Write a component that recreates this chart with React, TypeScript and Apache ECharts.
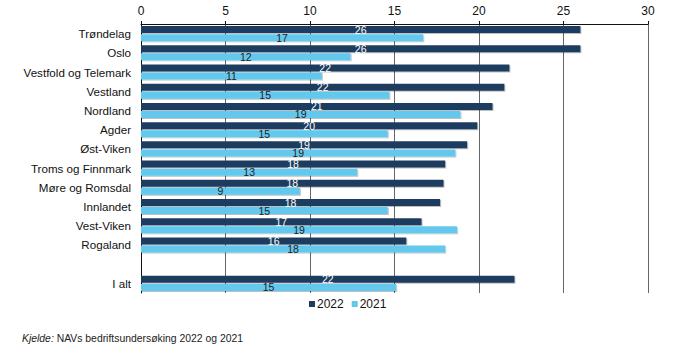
import React, { useEffect, useRef } from "react";
import * as echarts from "echarts";

const categories = [
  "Trøndelag",
  "Oslo",
  "Vestfold og Telemark",
  "Vestland",
  "Nordland",
  "Agder",
  "Øst-Viken",
  "Troms og Finnmark",
  "Møre og Romsdal",
  "Innlandet",
  "Vest-Viken",
  "Rogaland",
  "",
  "I alt",
];
const values2022 = [26.0, 26.0, 21.8, 21.5, 20.8, 19.9, 19.3, 18.0, 17.9, 17.7, 16.6, 15.7, null, 22.1];
const values2021 = [16.7, 12.4, 10.7, 14.7, 18.9, 14.6, 18.6, 12.8, 9.4, 14.6, 18.7, 18.0, null, 15.1];
const xTicks = { min: 0, max: 30, interval: 5 };
const legendNames = ["2022", "2021"];
const sourceLabel = "Kjelde:";
const sourceText = " NAVs bedriftsundersøking 2022 og 2021";

const DARK = "#1f3e5e";
const LIGHT = "#62c8ee";
const FONT = "Liberation Sans, Arial, sans-serif";

export default function App() {
  const ref = useRef<HTMLDivElement>(null);
  useEffect(() => {
    document.body.style.margin = "0";
    if (!ref.current) return;
    const chart = echarts.init(ref.current, null, { renderer: "svg" });
    const barShadow = {
      shadowColor: "rgba(0,0,0,0.25)",
      shadowOffsetX: 1,
      shadowOffsetY: 1,
      shadowBlur: 0,
    };
    const fmt = (p: any) => (p.value == null ? "" : String(Math.round(p.value)));
    chart.setOption({
      animation: false,
      textStyle: { fontFamily: FONT },
      grid: { left: 141, right: 47, top: 24, bottom: 63, containLabel: false },
      legend: {
        data: legendNames,
        left: 304,
        top: 293,
        itemWidth: 6,
        itemHeight: 6,
        itemGap: 8,
        icon: "rect",
        textStyle: { fontSize: 12, color: "#111", fontFamily: FONT, padding: [0, 0, 0, -3] },
      },
      xAxis: {
        type: "value",
        position: "top",
        min: xTicks.min,
        max: xTicks.max,
        interval: xTicks.interval,
        axisLine: { show: true, lineStyle: { color: "#111", width: 1 } },
        axisTick: { show: true, length: 3, lineStyle: { color: "#111" } },
        axisLabel: { fontSize: 12, color: "#111", margin: 7 },
        splitLine: { show: true, lineStyle: { color: "#666", width: 1 } },
      },
      yAxis: {
        type: "category",
        data: categories,
        inverse: true,
        axisLine: { show: true, lineStyle: { color: "#111", width: 1 } },
        axisTick: { show: false },
        axisLabel: { fontSize: 11.6, color: "#111", margin: 10 },
        splitLine: { show: false },
      },
      series: [
        {
          name: legendNames[0],
          type: "bar",
          data: values2022,
          barWidth: 7,
          barGap: "15%",
          barCategoryGap: "20%",
          itemStyle: { color: DARK, ...barShadow },
          label: {
            show: true,
            position: "inside",
            color: "#fff",
            fontSize: 10.5,
            lineHeight: 7,
            formatter: fmt,
          },
          z: 3,
        },
        {
          name: legendNames[1],
          type: "bar",
          data: values2021,
          barWidth: 7,
          itemStyle: { color: LIGHT, ...barShadow },
          label: {
            show: true,
            position: "inside",
            color: "#222",
            fontSize: 10.5,
            lineHeight: 7,
            formatter: fmt,
          },
          z: 3,
        },
      ],
      graphic: [
        {
          type: "text",
          left: 22,
          top: 333,
          style: {
            text: `{i|${sourceLabel}}{n|${sourceText}}`,
            rich: {
              i: { fontStyle: "italic", fontSize: 10.4, fill: "#222", fontFamily: FONT },
              n: { fontSize: 10.4, fill: "#222", fontFamily: FONT },
            },
          },
        },
      ],
    });
    return () => chart.dispose();
  }, []);
  return <div ref={ref} style={{ width: 695, height: 356 }} />;
}
